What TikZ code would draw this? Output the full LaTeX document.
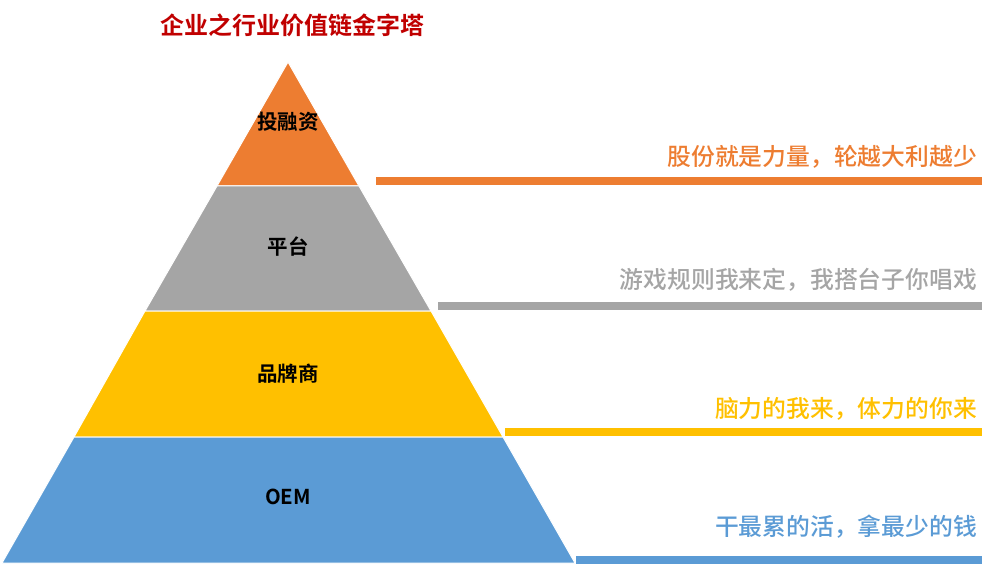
\documentclass[tikz,border=0pt]{standalone}
\usepackage{fontspec}
\newfontfamily\cjk{Noto Sans CJK SC Medium}
\newfontfamily\cjkb{Noto Sans CJK SC Bold}
\definecolor{cOrange}{HTML}{ED7D31}
\definecolor{cGray}{HTML}{A5A5A5}
\definecolor{cYellow}{HTML}{FFC000}
\definecolor{cBlue}{HTML}{5B9BD5}
\definecolor{cRed}{HTML}{C00000}
\begin{document}
\begin{tikzpicture}[x=1pt,y=-1pt,
  layer/.style={draw=white,line width=1pt},
  lvl/.style={font=\cjkb\fontsize{20.5}{24}\selectfont,text=black,inner sep=0pt},
  note/.style={font=\cjk\fontsize{23.8}{27}\selectfont,anchor=east,inner sep=0pt},
  bar/.style={line width=8pt}]
\useasboundingbox (0,0) rectangle (996,564);
% pyramid corners
\coordinate (apex) at (288,62);
\coordinate (l1) at (217,186); \coordinate (r1) at (359,186);
\coordinate (l2) at (145,311); \coordinate (r2) at (431,311);
\coordinate (l3) at (74,437);  \coordinate (r3) at (503,437);
\coordinate (l4) at (2,563);   \coordinate (r4) at (575,563);
\fill[cOrange,layer] (apex) -- (r1) -- (l1) -- cycle;
\fill[cGray,layer] (l1) -- (r1) -- (r2) -- (l2) -- cycle;
\fill[cYellow,layer] (l2) -- (r2) -- (r3) -- (l3) -- cycle;
\fill[cBlue,layer] (l3) -- (r3) -- (r4) -- (l4) -- cycle;
% title
\node[font=\cjkb\fontsize{24}{28}\selectfont,text=cRed,inner sep=0pt] (title) at (292,25) {企业之行业价值链金字塔};
% layer labels
\node[lvl] (n1) at (288,122) {投融资};
\node[lvl] (n2) at (288,247) {平台};
\node[lvl] (n3) at (288,374) {品牌商};
\node[lvl] (n4) at (288,497) {OEM};
% bars
\coordinate (b1s) at (376,181); \coordinate (b1e) at (982,181);
\coordinate (b2s) at (438,306); \coordinate (b2e) at (982,306);
\coordinate (b3s) at (505,432); \coordinate (b3e) at (982,432);
\coordinate (b4s) at (576,560); \coordinate (b4e) at (982,560);
\draw[bar,cOrange] (b1s) -- (b1e);
\draw[bar,cGray] (b2s) -- (b2e);
\draw[bar,cYellow] (b3s) -- (b3e);
\draw[bar,cBlue] (b4s) -- (b4e);
% notes
\node[note,text=cOrange] (t1) at (977,157) {股份就是力量，轮越大利越少};
\node[note,text=cGray] (t2) at (977,280) {游戏规则我来定，我搭台子你唱戏};
\node[note,text=cYellow] (t3) at (977,409) {脑力的我来，体力的你来};
\node[note,text=cBlue] (t4) at (977,527) {干最累的活，拿最少的钱};
\end{tikzpicture}
\end{document}
